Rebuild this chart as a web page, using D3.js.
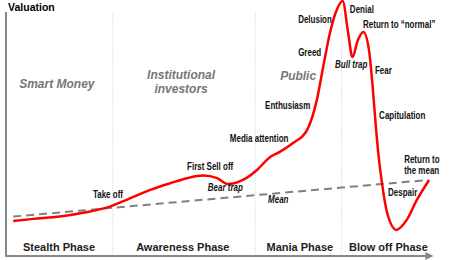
<!DOCTYPE html>
<html>
<head>
<meta charset="utf-8">
<script src="https://cdn.jsdelivr.net/npm/d3@7"></script>
<style>
  body { margin: 0; background: #fff; }
  svg { display: block; }
  .note { font-family: "Liberation Sans Narrow", "Arial Narrow", "Liberation Sans", sans-serif; font-weight: bold; font-size: 10px; fill: #111; }
  .phase { font-family: "Liberation Sans", Arial, sans-serif; font-weight: bold; font-size: 11px; fill: #222; }
  .group { font-family: "Liberation Sans", Arial, sans-serif; font-weight: bold; font-style: italic; font-size: 12px; fill: #777; }
</style>
</head>
<body>
<div id="chart"></div>
<script>
// time (0-100) and valuation (0-100) of the bubble curve
const curveTime = [1.7, 6.4, 12.7, 18.2, 24.5, 29.2, 34.0, 38.7, 42.7, 46.5, 49.8, 52.4, 55.9, 59.2, 62.3, 64.6, 67.7, 71.0, 73.3, 74.8, 76.4, 78.0, 79.4, 80.7, 81.7, 83.0, 84.3, 85.6, 86.4, 87.3, 87.8, 88.8, 89.9, 92.1, 94.5, 96.9, 99.8];
const curveValue = [13.7, 14.5, 15.4, 16.9, 19.3, 22.5, 25.8, 28.4, 30.4, 31.4, 30.4, 28.1, 29.7, 33.6, 38.7, 40.7, 44.1, 49.2, 60.9, 73.8, 87.1, 96.1, 99.6, 87.1, 77.7, 84.4, 87.5, 80.5, 67.6, 49.2, 40.2, 27.0, 16.8, 10.2, 14.1, 21.9, 29.7];

const meanTime = [1.7, 99.5];
const meanValue = [15.4, 29.7];

const phases = ['Stealth Phase', 'Awareness Phase', 'Mania Phase', 'Blow off Phase'];
const phaseCenter = [12.5, 41.7, 69.3, 90.2];
const phaseBreaks = [25.2, 58.8, 79.1];

const groups = [['Smart Money'], ['Institutional', 'investors'], ['Public']];
const groupCenter = [12.0, 41.3, 68.9];
const groupValue = [65.6, 69.1, 68.8];

const notes = ['Take off', 'First Sell off', 'Bear trap', 'Media attention', 'Mean', 'Enthusiasm', 'Greed', 'Delusion', 'Denial', 'Return to \u201cnormal\u201d', 'Bull trap', 'Fear', 'Capitulation', 'Return to', 'the mean', 'Despair'];
const noteTime = [20.5, 42.7, 47.6, 52.8, 61.8, 61.1, 68.9, 68.9, 81.1, 84.2, 77.6, 87.0, 88.0, 93.9, 93.9, 90.1];
const noteValue = [22.7, 33.6, 25.4, 44.5, 20.7, 57.4, 78.1, 91.0, 94.9, 89.1, 73.4, 71.1, 53.5, 36.3, 32.0, 23.4];
const noteItalic = ['Bear trap', 'Mean', 'Bull trap'];

const width = 450, height = 260;

const svg = d3.select('#chart').append('svg')
  .attr('width', width)
  .attr('height', height);

const x = d3.scaleLinear().domain([0, 100]).range([6, 430]);
const y = d3.scaleLinear().domain([0, 100]).range([256, 0]);

// phase separators
svg.selectAll('.sep')
  .data(phaseBreaks)
  .enter().append('line')
  .attr('class', 'sep')
  .attr('x1', d => x(d)).attr('x2', d => x(d))
  .attr('y1', y(95)).attr('y2', y(0.5))
  .attr('stroke', '#c8d0d8')
  .attr('stroke-width', 1)
  .attr('stroke-dasharray', '1,1.5');

// axes
svg.append('defs').append('marker')
  .attr('id', 'arrow')
  .attr('viewBox', '0 0 10 10')
  .attr('refX', 8).attr('refY', 5)
  .attr('markerWidth', 4).attr('markerHeight', 4)
  .attr('orient', 'auto')
  .append('path')
  .attr('d', 'M0,0L10,5L0,10z')
  .attr('fill', '#888');

svg.append('line')
  .attr('x1', x(0)).attr('x2', x(0))
  .attr('y1', y(95.3)).attr('y2', y(0))
  .attr('stroke', '#888').attr('stroke-width', 2);

svg.append('line')
  .attr('x1', x(0) - 1).attr('x2', x(100.4))
  .attr('y1', y(0)).attr('y2', y(0))
  .attr('stroke', '#888').attr('stroke-width', 2)
  .attr('marker-end', 'url(#arrow)');

svg.append('text')
  .attr('x', x(0.5)).attr('y', y(95.6))
  .attr('font-family', 'Liberation Sans, Arial, sans-serif')
  .attr('font-weight', 'bold')
  .attr('font-size', '10.5px')
  .attr('fill', '#000')
  .text('Valuation');

// mean line
const meanPts = meanTime.map((t, i) => [t, meanValue[i]]);
svg.append('path')
  .datum(meanPts)
  .attr('d', d3.line().x(d => x(d[0])).y(d => y(d[1])))
  .attr('fill', 'none')
  .attr('stroke', '#808080')
  .attr('stroke-width', 2)
  .attr('stroke-dasharray', '8,5');

// bubble curve
const pts = curveTime.map((t, i) => [t, curveValue[i]]);
svg.append('path')
  .datum(pts)
  .attr('d', d3.line().curve(d3.curveMonotoneX).x(d => x(d[0])).y(d => y(d[1])))
  .attr('fill', 'none')
  .attr('stroke', '#ff0000')
  .attr('stroke-width', 2.5)
  .attr('stroke-linejoin', 'round');

// phase labels
svg.selectAll('.phase')
  .data(phases)
  .enter().append('text')
  .attr('class', 'phase')
  .attr('x', (d, i) => x(phaseCenter[i]))
  .attr('y', y(2))
  .attr('text-anchor', 'middle')
  .text(d => d);

// investor groups
groups.forEach((lines, i) => {
  const t = svg.append('text')
    .attr('class', 'group')
    .attr('text-anchor', 'middle')
    .attr('x', x(groupCenter[i]))
    .attr('y', y(groupValue[i]));
  lines.forEach((s, j) => {
    t.append('tspan')
      .attr('x', x(groupCenter[i]))
      .attr('dy', j ? 14 : 0)
      .text(s);
  });
});

// annotations, squeezed sideways since the original uses a narrow face
svg.selectAll('.note')
  .data(notes)
  .enter().append('text')
  .attr('class', 'note')
  .attr('transform', (d, i) => `translate(${x(noteTime[i])},${y(noteValue[i])}) scale(0.8,1)`)
  .attr('font-style', d => noteItalic.includes(d) ? 'italic' : 'normal')
  .text(d => d);
</script>
</body>
</html>
